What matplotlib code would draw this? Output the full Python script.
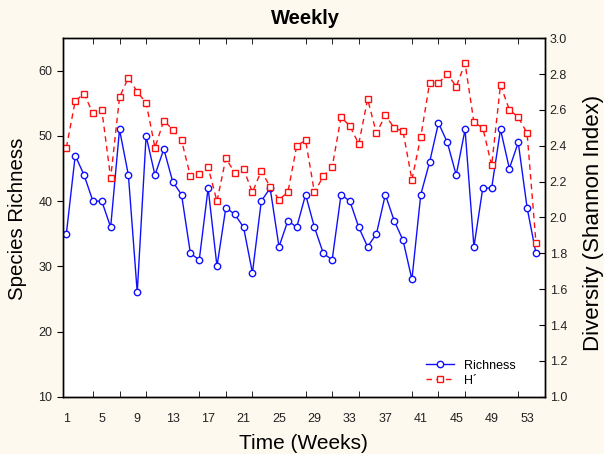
import matplotlib.pyplot as plt
import numpy as np

plt.rcParams['font.family'] = ['Liberation Sans', 'DejaVu Sans']

weeks = np.arange(1, 55)
richness = [35, 47, 44, 40, 40, 36, 51, 44, 26, 50,
            44, 48, 43, 41, 32, 31, 42, 30, 39, 38,
            36, 29, 40, 42, 33, 37, 36, 41, 36, 32,
            31, 41, 40, 36, 33, 35, 41, 37, 34, 28,
            41, 46, 52, 49, 44, 51, 33, 42, 42, 51,
            45, 49, 39, 32]
shannon = [2.39, 2.65, 2.69, 2.58, 2.60, 2.22, 2.67, 2.78, 2.70, 2.64,
           2.39, 2.54, 2.49, 2.43, 2.23, 2.24, 2.28, 2.09, 2.33, 2.25,
           2.27, 2.14, 2.26, 2.17, 2.10, 2.14, 2.40, 2.43, 2.14, 2.23,
           2.28, 2.56, 2.51, 2.41, 2.66, 2.47, 2.57, 2.50, 2.48, 2.21,
           2.45, 2.75, 2.75, 2.80, 2.73, 2.86, 2.53, 2.50, 2.29, 2.74,
           2.60, 2.56, 2.47, 1.86]
label_weeks = np.arange(1, 54, 4)
tick_weeks = np.arange(1, 56, 3)

bg = '#fdf9ee'
fig = plt.figure(figsize=(6.04, 4.54), dpi=100, facecolor=bg)
ax = fig.add_axes([0.104, 0.126, 0.798, 0.790])
ax.set_facecolor('white')

l1, = ax.plot(weeks, richness, color='#1010ff', lw=1.0, marker='o', ms=4.6,
              mfc='white', mec='#1010ff', mew=1.0, label='Richness')
ax2 = ax.twinx()
l2, = ax2.plot(weeks, shannon, color='#ff1010', lw=1.0, ls=(0, (4, 3)),
               marker='s', ms=4.6, mfc='white', mec='#ff1010', mew=1.0,
               label='H´')

ax.set_xlim(0.6, 55)
ax.set_ylim(10, 65)
ax2.set_ylim(1.0, 3.0)
ax.set_yticks(np.arange(10, 61, 10))
ax2.set_yticks(np.arange(1.0, 3.01, 0.2))
ax2.set_yticklabels([f'{v:.1f}' for v in np.arange(1.0, 3.01, 0.2)])

# labels every 4 weeks, tick marks every 3 weeks
ax.set_xticks(label_weeks)
ax.set_xticklabels([str(w) for w in label_weeks])
ax.set_xticks(tick_weeks, minor=True)
ax.tick_params(axis='x', which='major', length=0, labelsize=9, pad=12,
               colors='#222222')
ax.tick_params(axis='x', which='minor', direction='in', length=4,
               top=True, bottom=True)
ax.tick_params(axis='y', direction='out', length=4, labelsize=9,
               labelcolor='#222222')
ax2.tick_params(axis='y', direction='in', length=4, labelsize=9,
                labelcolor='#222222')

for a in (ax, ax2):
    for s in a.spines.values():
        s.set_linewidth(1.0)
        s.set_color('black')

ax.set_xlabel('Time (Weeks)', fontsize=15, labelpad=6)
ax.set_ylabel('Species Richness', fontsize=14.7, va='center')
ax2.set_ylabel('Diversity (Shannon Index)', fontsize=16, va='center')
ax.yaxis.set_label_coords(-0.093, 0.496)
ax2.yaxis.set_label_coords(1.102, 0.485)
fig.text(0.506, 0.96, 'Weekly', fontsize=14.5, fontweight='bold',
         ha='center', va='center')

ax2.legend([l1, l2], ['Richness', 'H´'], loc='lower right', frameon=False,
           fontsize=9, handlelength=2.2, borderaxespad=0.4, labelspacing=0.25,
           bbox_to_anchor=(0.96, 0.0))

fig.savefig('out.png', dpi=100, facecolor=bg)
